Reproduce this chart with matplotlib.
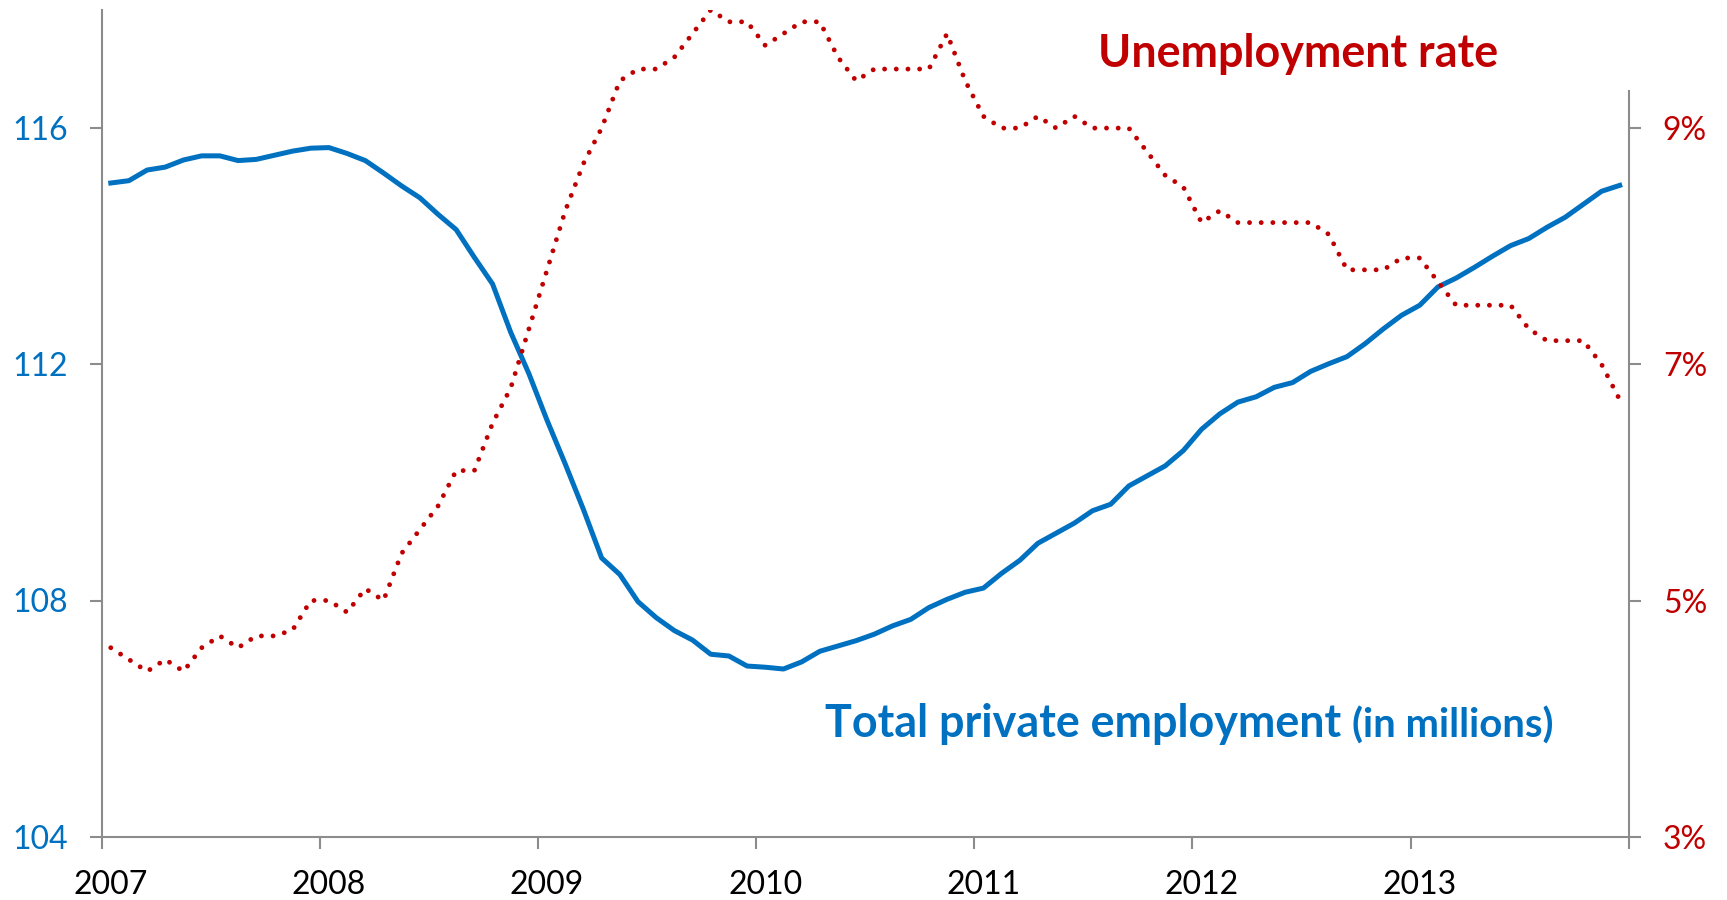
import matplotlib
matplotlib.use("Agg")
import matplotlib.pyplot as plt
import numpy as np

# Monthly data, Jan 2007 - Dec 2013
employment = [
    115.07, 115.11, 115.29, 115.34, 115.46, 115.53, 115.53, 115.45, 115.47, 115.54, 115.61, 115.66,
    115.67, 115.57, 115.45, 115.24, 115.02, 114.82, 114.54, 114.28, 113.81, 113.36, 112.54, 111.84,
    111.05, 110.31, 109.54, 108.72, 108.44, 107.98, 107.71, 107.49, 107.33, 107.09, 107.06, 106.89,
    106.87, 106.84, 106.96, 107.14, 107.23, 107.32, 107.43, 107.57, 107.68, 107.88, 108.02, 108.14,
    108.21, 108.46, 108.68, 108.97, 109.14, 109.31, 109.52, 109.63, 109.94, 110.11, 110.28, 110.54,
    110.90, 111.16, 111.36, 111.45, 111.61, 111.69, 111.88, 112.01, 112.13, 112.35, 112.60, 112.83,
    113.00, 113.31, 113.46, 113.64, 113.83, 114.01, 114.13, 114.32, 114.49, 114.71, 114.93, 115.03,
]
unemployment = [
    4.6, 4.5, 4.4, 4.5, 4.4, 4.6, 4.7, 4.6, 4.7, 4.7, 4.75, 5.0,
    5.0, 4.9, 5.1, 5.0, 5.4, 5.6, 5.8, 6.1, 6.1, 6.5, 6.8, 7.3,
    7.8, 8.3, 8.7, 9.0, 9.4, 9.5, 9.5, 9.6, 9.8, 10.0, 9.9, 9.9,
    9.7, 9.8, 9.9, 9.9, 9.6, 9.4, 9.5, 9.5, 9.5, 9.5, 9.8, 9.4,
    9.1, 9.0, 9.0, 9.1, 9.0, 9.1, 9.0, 9.0, 9.0, 8.8, 8.6, 8.5,
    8.2, 8.3, 8.2, 8.2, 8.2, 8.2, 8.2, 8.1, 7.8, 7.8, 7.8, 7.9,
    7.9, 7.7, 7.5, 7.5, 7.5, 7.5, 7.3, 7.2, 7.2, 7.2, 7.0, 6.7,
]
start_year = 2007
years = list(range(2007, 2015))
year_labels = ["2007", "2008", "2009", "2010", "2011", "2012", "2013"]
left_ticks = [104, 108, 112, 116]
right_ticks = [3, 5, 7, 9]

BLUE = "#0070C0"
RED = "#C00000"
GRAY = "#8C8C8C"
FONT = "Lato"

plt.rcParams["font.family"] = [FONT, "DejaVu Sans"]

x = np.array([start_year + (i + 0.5) / 12 for i in range(len(employment))])

fig = plt.figure(figsize=(17.27, 9.0), dpi=100)
ax = fig.add_axes([101.7 / 1727, 1 - 836.7 / 900, (1628.8 - 101.7) / 1727, (836.7 - 10) / 900])
ax2 = ax.twinx()

ax.plot(x, employment, color=BLUE, lw=3.6, solid_joinstyle="round", zorder=3)
ax2.plot(x, unemployment, color=RED, lw=3.5, linestyle=(0, (0.001, 2.4)),
         dash_capstyle="round", zorder=2)

ax.set_xlim(2007, 2014)
ax.set_ylim(104, 118)
ax2.set_ylim(3, 10)

# spines
for a in (ax, ax2):
    a.spines["top"].set_visible(False)
    for s in ("left", "right", "bottom"):
        a.spines[s].set_color(GRAY)
        a.spines[s].set_linewidth(1.5)
ax.spines["right"].set_visible(False)
ax2.spines["left"].set_visible(False)
ax2.spines["bottom"].set_visible(False)
ax2.spines["right"].set_bounds(3, 9.31)

# x ticks: marks at year boundaries, labels at January
ax.set_xticks(years)
ax.set_xticklabels([])
ax.set_xticks([y + 0.5 / 12 for y in years[:-1]], minor=True)
ax.set_xticklabels(year_labels, minor=True)
ax.tick_params(axis="x", which="major", direction="out", length=8.5, width=1.5, color=GRAY)
ax.tick_params(axis="x", which="minor", length=0, pad=24, labelsize=23, labelcolor="black")

ax.set_yticks(left_ticks)
ax.set_yticklabels([str(v) for v in left_ticks])
ax.tick_params(axis="y", direction="out", length=8.5, width=1.5, color=GRAY,
               pad=16, labelsize=23, labelcolor=BLUE)

ax2.set_yticks(right_ticks)
ax2.set_yticklabels([f"{v}%" for v in right_ticks])
ax2.tick_params(axis="y", direction="out", length=8.5, width=1.5, color=GRAY,
                pad=16, labelsize=23, labelcolor=RED)

for lab in ax.get_xticklabels(minor=True) + ax.get_yticklabels() + ax2.get_yticklabels():
    lab.set_family([FONT, "DejaVu Sans"])

# annotations
fig.text(1098 / 1727, 1 - 67 / 900, "Unemployment rate", color=RED, fontsize=32.3,
         fontweight="bold", ha="left", va="baseline")
fig.text(825 / 1727, 1 - 737.3 / 900, "Total private employment", color=BLUE, fontsize=32.3,
         fontweight="bold", ha="left", va="baseline")
fig.text(1352 / 1727, 1 - 737.3 / 900, "(in millions)", color=BLUE, fontsize=28.8,
         fontweight="bold", ha="left", va="baseline")

fig.savefig("out.png", dpi=100)
